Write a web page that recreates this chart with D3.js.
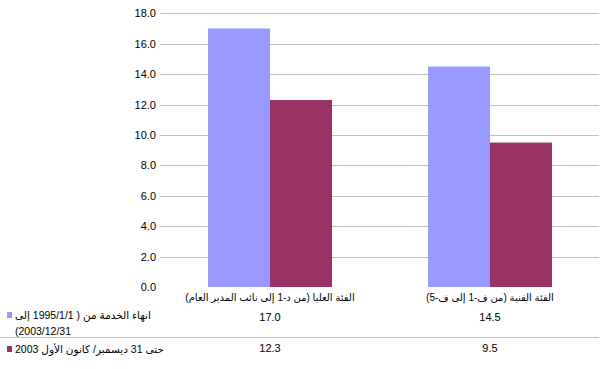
<!DOCTYPE html>
<html><head><meta charset="utf-8">
<script src="https://cdn.jsdelivr.net/npm/d3@7"></script>
<style>
html,body{margin:0;padding:0;background:#fff;}
text{font-family:"Liberation Sans","DejaVu Sans",Arial,sans-serif;font-size:11px;fill:#000;}
</style></head><body>
<svg id="c" width="602" height="369"></svg>
<script>
const categories = ["الفئة العليا (من د-1 إلى نائب المدير العام)", "الفئة الفنية (من ف-1 إلى ف-5)"];
const seriesNames = ["انهاء الخدمة من ( 1995/1/1 إلى|2003/12/31)", "حتى 31 ديسمبر/ كانون الأول 2003"];
const seriesA = [17.0, 14.5];
const seriesB = [12.3, 9.5];
const yTicks = [0, 2, 4, 6, 8, 10, 12, 14, 16, 18];
const colors = ["#9999FF", "#993366"];

const svg = d3.select("#c");
const x = d3.scaleBand().domain(categories).range([160, 600]);
const y = d3.scaleLinear().domain([0, 18]).range([287, 13.3]);
const inner = d3.scaleBand().domain([0, 1]).range([0, x.bandwidth()]).paddingOuter(0.774).paddingInner(0);

// gridlines
svg.append("g").selectAll("line").data(yTicks.filter(d => d > 0)).join("line")
  .attr("x1", 160).attr("x2", 599)
  .attr("y1", d => Math.round(y(d)) + 0.5).attr("y2", d => Math.round(y(d)) + 0.5)
  .attr("stroke", "#C0C0C0").attr("stroke-width", 1);

// y labels
svg.append("g").selectAll("text").data(yTicks).join("text")
  .attr("x", 156).attr("y", d => y(d) + 4)
  .attr("text-anchor", "end").text(d => d.toFixed(1));

// bars
const series = [seriesA, seriesB];
series.forEach((vals, si) => {
  svg.append("g").selectAll("rect").data(vals).join("rect")
    .attr("x", (d, i) => x(categories[i]) + inner(si))
    .attr("width", inner.bandwidth())
    .attr("y", d => y(d)).attr("height", d => y(0) - y(d))
    .attr("fill", colors[si]);
});

// category labels
svg.append("g").selectAll("text").data(categories).join("text")
  .attr("x", d => x(d) + x.bandwidth() / 2).attr("y", 301)
  .attr("text-anchor", "middle").attr("direction", "rtl")
  .style("font-size", "10px")
  .text(d => d);

// table values
const rowY = [321, 352];
series.forEach((vals, si) => {
  svg.append("g").selectAll("text").data(vals).join("text")
    .attr("x", (d, i) => x(categories[i]) + x.bandwidth() / 2).attr("y", rowY[si])
    .attr("text-anchor", "middle").text(d => d.toFixed(1));
});

// separator
svg.append("line").attr("x1", 0).attr("x2", 599).attr("y1", 337.5).attr("y2", 337.5)
  .attr("stroke", "#C0C0C0");

// legend
const legY = [[319, 335], [353]];
seriesNames.forEach((name, si) => {
  const lines = name.split("|");
  svg.append("rect").attr("x", 7).attr("y", legY[si][0] - 7).attr("width", 5).attr("height", 6)
    .attr("fill", colors[si]);
  lines.forEach((ln, li) => {
    svg.append("text").attr("x", 15).attr("y", legY[si][li])
      .attr("direction", "rtl").attr("text-anchor", "end")
      .style("font-size", "10.5px")
      .text(ln);
  });
});
</script>
</body></html>
